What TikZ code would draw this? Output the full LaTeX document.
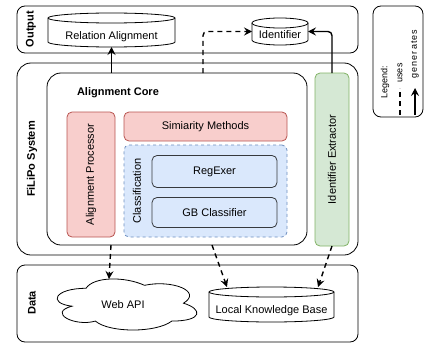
\documentclass[tikz,border=0pt]{standalone}
\usepackage{fontspec}
\usepackage{graphicx}
\setmainfont{Liberation Sans}
\usetikzlibrary{arrows.meta,calc}
\definecolor{redf}{HTML}{F8CECC}
\definecolor{redd}{HTML}{B85450}
\definecolor{bluef}{HTML}{DAE8FC}
\definecolor{blued}{HTML}{6C8EBF}
\definecolor{greenf}{HTML}{D5E8D4}
\definecolor{greend}{HTML}{82B366}
\definecolor{darkd}{HTML}{36393D}
\newcommand{\drawcyl}[2]{%
  \draw[cylline] ([yshift=-5pt]#1.north west) -- ([yshift=5pt]#1.south west)
    arc[start angle=180,end angle=360,x radius=#2,y radius=5pt]
    -- ([yshift=-5pt]#1.north east)
    arc[start angle=0,end angle=180,x radius=#2,y radius=5pt] -- cycle;
  \draw[cylline] ([yshift=-5pt]#1.north west)
    arc[start angle=180,end angle=360,x radius=#2,y radius=5pt];}
\begin{document}
\begin{tikzpicture}[x=1pt,y=-1pt,font=\fontsize{11}{13}\selectfont,
 base/.style={inner sep=0pt, outer sep=0pt, align=center},
 frame/.style={base, draw, line width=0.8pt, rounded corners=#1},
 grp/.style={font=\fontsize{11}{13}\selectfont\bfseries, rotate=90, inner sep=0pt},
 redbox/.style={base, draw=redd, fill=redf, line width=0.8pt, rounded corners=5pt},
 bluebox/.style={base, draw=darkd, fill=bluef, line width=0.8pt, rounded corners=5pt},
 clsbox/.style={base, draw=blued, fill=bluef, dashed, line width=0.8pt, rounded corners=5pt},
 greenbox/.style={base, draw=greend, fill=greenf, line width=0.8pt, rounded corners=5pt},
 cylnode/.style={base, text height=8pt, text depth=2pt},
 cylline/.style={line width=0.8pt},
 gen/.style={line width=1.4pt, -{Stealth[length=8pt,width=8pt,inset=3pt]}},
 uses/.style={gen, dash pattern=on 5pt off 4pt},
 legtext/.style={font=\fontsize{9}{11}\selectfont, rotate=90, inner sep=0pt}]
\useasboundingbox (0,0) rectangle (425,345);

% frames
\node[frame=8pt, minimum width=341pt, minimum height=47pt] (out) at (187.5,29.5) {};
\node[frame=8pt, minimum width=50pt, minimum height=111pt] (leg) at (398,61.5) {};
\node[frame=14pt, minimum width=341pt, minimum height=192pt] (fil) at (187.5,159) {};
\node[frame=14pt, minimum width=260pt, minimum height=172pt] (core) at (177,159) {};
\node[frame=8pt, minimum width=341pt, minimum height=77pt] (data) at (187.5,303.5) {};

% group labels
\node[grp] (lout) at (31,29) {Output};
\node[grp] (lfil) at (32,159) {FiLiPo System};
\node[grp] (ldata) at (32,303) {Data};
\node[base, font=\fontsize{11}{13}\selectfont\bfseries, anchor=west] (lcore) at (77,93) {Alignment Core};

% inner boxes
\node[redbox, minimum width=48pt, minimum height=125pt] (ap) at (91,174.5) {\rotatebox{90}{Alignment Processor}};
\node[redbox, minimum width=163pt, minimum height=29pt] (sim) at (205.5,126.5) {Simiarity Methods};
\node[clsbox, minimum width=163pt, minimum height=92pt] (cls) at (205.5,191) {};
\node[base, rotate=90] (lcls) at (137,191) {Classification};
\node[bluebox, minimum width=125pt, minimum height=32pt] (rx) at (214.5,171.5) {RegExer};
\node[bluebox, minimum width=125pt, minimum height=30pt] (gb) at (214.5,212.5) {GB Classifier};
\node[greenbox, minimum width=34pt, minimum height=173pt] (ie) at (332,159.5) {\rotatebox{90}{Identifier Extractor}};

% cylinders
\node[cylnode, minimum width=127pt, minimum height=34pt] (ra) at (111.5,30) {\raisebox{-6.5pt}{Relation Alignment}};
\drawcyl{ra}{63.5pt}
\node[cylnode, minimum width=56pt, minimum height=27pt] (id) at (280,31.5) {\raisebox{-4.5pt}{Identifier}};
\drawcyl{id}{28pt}
\node[cylnode, minimum width=125pt, minimum height=35pt] (lkb) at (271.5,304.5) {\raisebox{-6pt}{Local Knowledge Base}};
\drawcyl{lkb}{62.5pt}

% cloud
\begin{scope}[shift={(47,273.4)}, x=1.56pt, y=-0.596pt]
\draw[line width=0.8pt] (25,25) .. controls (5,25) and (0,50) .. (16,55)
  .. controls (0,66) and (18,90) .. (31,80)
  .. controls (40,100) and (70,100) .. (80,80)
  .. controls (100,80) and (100,60) .. (87.5,50)
  .. controls (100,30) and (80,10) .. (62.5,20)
  .. controls (50,5) and (30,5) .. (25,25) -- cycle;
\end{scope}
\node[base] (web) at (123,305) {Web API};

% connector endpoints
\coordinate (u1) at (203,73);
\coordinate (c1) at (111,245);
\coordinate (cw) at (109,279);
\coordinate (c2) at (212,245);
\coordinate (k1) at (227,287);
\coordinate (k2) at (318,287);

% connectors
\draw[gen] (core.north -| ra.south) -- (ra.south);
\draw[uses, rounded corners=4pt] (u1) |- (id.west);
\draw[gen, rounded corners=4pt] (ie.north) |- (id.east);
\draw[uses] (c1) -- (cw);
\draw[uses] (c2) -- (k1);
\draw[uses] (ie.south) -- (k2);

% legend
\node[legtext] (lleg) at (385,82) {Legend:};
\node[legtext] (luses) at (400,73) {uses};
\node[legtext] (lgen) at (415,54) {\addfontfeature{LetterSpace=12}generates};
\coordinate (ld1) at (400,115);
\coordinate (ld2) at (400,88);
\coordinate (la1) at (415,115);
\coordinate (la2) at (415,88);
\draw[line width=1.4pt, dash pattern=on 5pt off 4pt] (ld1) -- (ld2);
\draw[gen] (la1) -- (la2);
\end{tikzpicture}
\end{document}
